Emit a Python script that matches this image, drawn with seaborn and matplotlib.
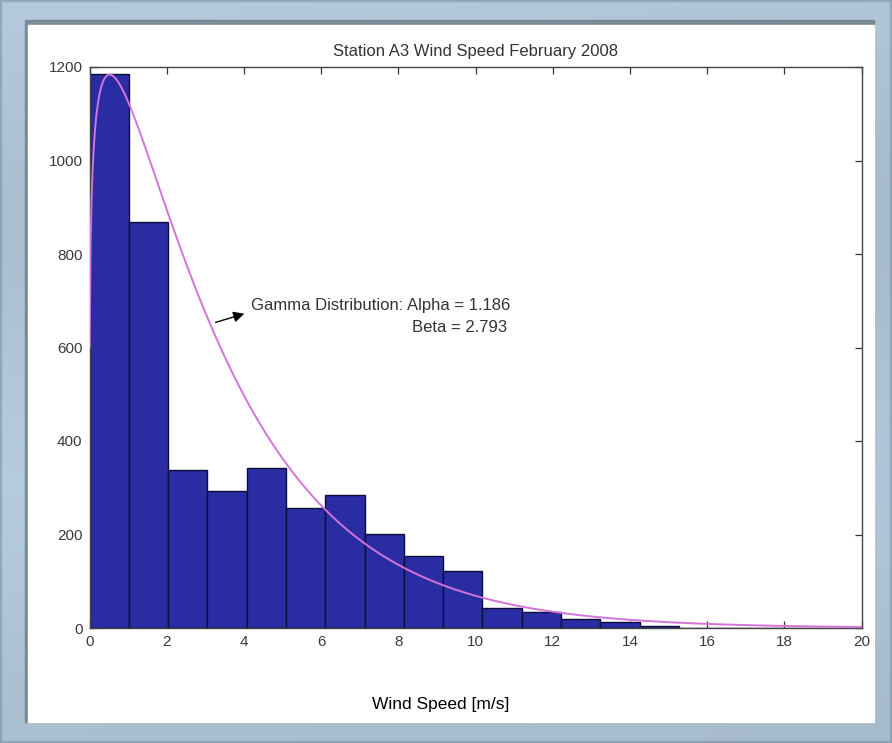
import math
import numpy as np
import pandas as pd
import matplotlib
matplotlib.use("Agg")
import matplotlib.pyplot as plt
from matplotlib.patches import Rectangle
import seaborn as sns

# Histogram of hourly wind speed, 20 equal bins
bin_width = 1.018
counts = [1185, 869, 337, 293, 343, 257, 284, 201, 155, 121,
          43, 34, 19, 12, 5, 1, 0, 0, 0, 1]

# Fitted gamma distribution
alpha = 1.186
beta = 2.793
fit_scale = 5020

title = "Station A3 Wind Speed February 2008"
xlabel = "Wind Speed [m/s]"
xticks = list(range(0, 21, 2))
yticks = list(range(0, 1201, 200))

n_bins = len(counts)
centers = (np.arange(n_bins) + 0.5) * bin_width
hist_df = pd.DataFrame({"speed": centers, "count": counts})

xs = np.linspace(0.005, 20, 800)
pdf = xs ** (alpha - 1) * np.exp(-xs / beta) / (math.gamma(alpha) * beta ** alpha)
fit_df = pd.DataFrame({"speed": xs, "count": pdf * fit_scale})

sns.set_theme(style="white")
plt.rcParams["font.family"] = ["Liberation Sans", "DejaVu Sans"]

W, H = 892, 743
fig = plt.figure(figsize=(W / 100, H / 100), dpi=100)

# Frosted backdrop and the white figure panel
bg = fig.add_axes([0, 0, 1, 1], zorder=-10)
gy, gx = np.mgrid[0:1:200j, 0:1:200j]
shade = 0.86 - 0.025 * np.cos(gy * 9.0) - 0.02 * gx
rgb = np.dstack([shade * 0.80, shade * 0.90, shade * 0.98])
bg.imshow(np.clip(rgb, 0, 1), extent=[0, 1, 0, 1], aspect="auto", origin="lower")
# darker rim along the outer border
for i, a in enumerate([0.35, 0.22, 0.12]):
    bg.add_patch(Rectangle((i / W, i / H), 1 - 2 * i / W, 1 - 2 * i / H,
                           fill=False, ec="#5d7282", lw=1.2, alpha=a))
px, py = 28 / W, 1 - 722 / H
pw, ph = (874 - 28) / W, (722 - 25) / H
bg.add_patch(Rectangle((px - 3 / W, py), pw + 3 / W, ph + 5 / H, color="#71828d", alpha=0.85))
bg.add_patch(Rectangle((px, py), pw, ph, color="white"))
bg.set_xlim(0, 1)
bg.set_ylim(0, 1)
bg.axis("off")

ax = fig.add_axes([89.5 / W, 1 - 628 / H, (861.5 - 89.5) / W, (628 - 67) / H])
sns.histplot(data=hist_df, x="speed", weights="count", binwidth=bin_width,
             binrange=(0, n_bins * bin_width), ax=ax,
             color="#2a2ca3", edgecolor="#0d0d3a", linewidth=1.0, alpha=1.0)
sns.lineplot(data=fit_df, x="speed", y="count", ax=ax, color="#d274d8",
             linewidth=1.4, zorder=5)

ax.set_xlim(0, 20)
ax.set_ylim(0, 1200)
ax.set_xticks(xticks)
ax.set_yticks(yticks)
ax.set_xlabel("")
ax.set_ylabel("")
ax.tick_params(direction="in", length=5, width=0.9, color="#333333",
               top=True, right=True, bottom=True, left=True,
               labelsize=11, labelcolor="#3a3a3a", pad=5)
for s in ax.spines.values():
    s.set_color("#444444")
    s.set_linewidth(1.0)
ax.set_title(title, fontsize=12, color="#333333", pad=8)

ax.annotate("", xy=(4.08, 674), xytext=(3.2, 652),
            arrowprops=dict(arrowstyle="-|>", color="black", lw=1.0,
                            mutation_scale=16), zorder=6)
ax.text(4.18, 690, "Gamma Distribution: Alpha = 1.186", fontsize=12,
        color="#333333", va="center", ha="left")
ax.text(8.36, 643, "Beta = 2.793", fontsize=12,
        color="#333333", va="center", ha="left")

fig.text(441 / W, 1 - 704 / H, xlabel, fontsize=12.5, color="black",
         ha="center", va="center")

fig.savefig("out.png", dpi=100)
